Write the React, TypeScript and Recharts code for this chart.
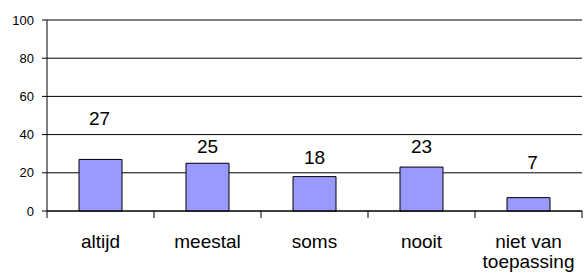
import React from 'react';
import { BarChart, Bar, XAxis, YAxis, CartesianGrid, LabelList, Text } from 'recharts';

const categories = ['altijd', 'meestal', 'soms', 'nooit', 'niet van toepassing'];
const values = [27, 25, 18, 23, 7];
const yTicks = [0, 20, 40, 60, 80, 100];

// label placement tweaks (not data)
const labelLift = [34, 10, 13, 14, 29];
const labelShiftX = [-1, 0, 0, 0, 4];

const data = categories.map((c, i) => ({ name: c, value: values[i] }));

const W = 587;
const H = 279;
const margin = { top: 20, right: 5, bottom: 8, left: 0 };
const Y_W = 47;
const X_H = 60;
const plotW = W - margin.left - margin.right - Y_W;
const band = plotW / categories.length;
const TICK_SIZE = 8;
const TICK_MARGIN = 16;
const FONT = '"Liberation Sans", Arial, sans-serif';

const CatTick = (props: any) => {
  const { x, y, payload, index } = props;
  const axisY = y - TICK_SIZE - TICK_MARGIN;
  const left = x - band / 2;
  return (
    <g>
      <line x1={left} x2={left} y1={axisY} y2={axisY + 7} stroke="#000" strokeWidth={1} />
      {index === categories.length - 1 && (
        <line x1={x + band / 2} x2={x + band / 2} y1={axisY} y2={axisY + 7} stroke="#000" strokeWidth={1} />
      )}
      <Text
        x={x}
        y={y}
        width={band - 10}
        textAnchor="middle"
        verticalAnchor="start"
        lineHeight={20}
        fontSize={19}
        fill="#000"
        fontFamily={FONT}
      >
        {payload.value}
      </Text>
    </g>
  );
};

const ValueLabel = (p: any) => {
  const { x, y, width, value, index } = p;
  return (
    <text
      x={x + width / 2 + labelShiftX[index]}
      y={y - labelLift[index]}
      textAnchor="middle"
      fontSize={19}
      fill="#000"
      fontFamily={FONT}
    >
      {value}
    </text>
  );
};

export default function App() {
  return (
    <div style={{ position: 'absolute', left: 0, top: 0, width: W, height: H, background: '#fff' }}>
      <BarChart width={W} height={H} data={data} margin={margin} barSize={43}>
        <CartesianGrid vertical={false} stroke="#000" strokeWidth={1} />
        <XAxis
          dataKey="name"
          height={X_H}
          interval={0}
          tickLine={false}
          tickSize={TICK_SIZE}
          tickMargin={TICK_MARGIN}
          axisLine={{ stroke: '#000' }}
          tick={<CatTick />}
        />
        <YAxis
          width={Y_W}
          domain={[0, 100]}
          ticks={yTicks}
          interval={0}
          tickSize={5}
          tickMargin={8}
          axisLine={{ stroke: '#000' }}
          tickLine={{ stroke: '#000' }}
          tick={{ fill: '#000', fontSize: 13, fontFamily: FONT }}
        />
        <Bar dataKey="value" fill="#9999FF" stroke="#000" strokeWidth={1} isAnimationActive={false}>
          <LabelList dataKey="value" content={<ValueLabel />} />
        </Bar>
      </BarChart>
    </div>
  );
}
